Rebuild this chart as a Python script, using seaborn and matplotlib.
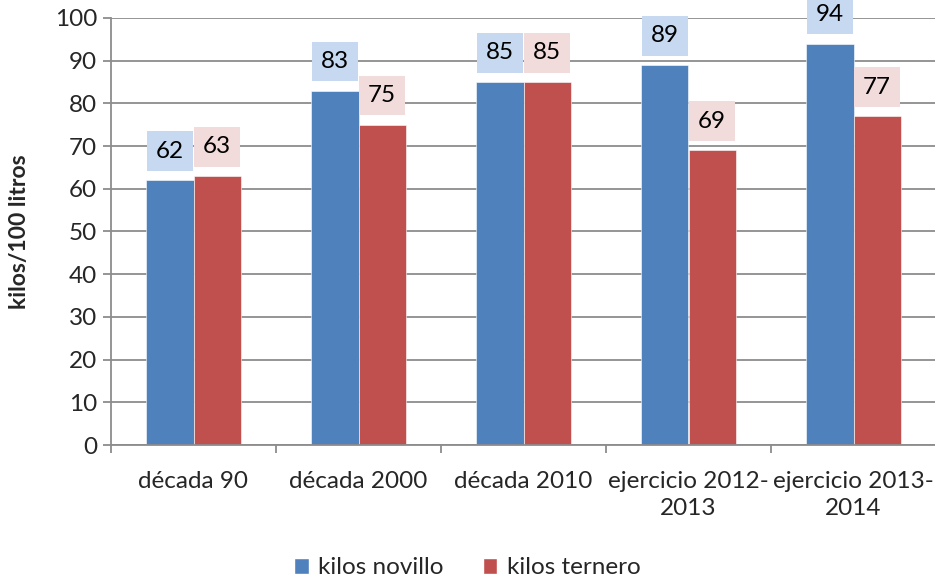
import seaborn as sns
import matplotlib.pyplot as plt
import pandas as pd
from matplotlib.patches import Patch

categorias = ["década 90", "década 2000", "década 2010", "ejercicio 2012-\n2013", "ejercicio 2013-\n2014"]
kilos_novillo = [62, 83, 85, 89, 94]
kilos_ternero = [63, 75, 85, 69, 77]
series = ["kilos novillo", "kilos ternero"]

colores = ["#4F81BD", "#C0504D"]
fondos = ["#C6D9F1", "#F2DCDB"]

df = pd.DataFrame({
    "categoria": categorias * 2,
    "valor": kilos_novillo + kilos_ternero,
    "serie": [series[0]] * len(categorias) + [series[1]] * len(categorias),
})

sns.set_theme(style="white")
plt.rcParams['font.family'] = ['Lato', 'DejaVu Sans']

fig = plt.figure(figsize=(9.35, 5.8), dpi=100)
ax = fig.add_axes([111 / 935, 135 / 580, 825 / 935, 427 / 580])

sns.barplot(data=df, x="categoria", y="valor", hue="serie", palette=colores,
            width=0.57, saturation=1, ax=ax, legend=False,
            edgecolor="white", linewidth=0.4)

# etiquetas con caja de fondo
for cont, fondo in zip(ax.containers, fondos):
    for bar in cont:
        h = bar.get_height()
        ax.annotate(f"{h:.0f}", (bar.get_x() + bar.get_width() / 2, h),
                    xytext=(0, 21), textcoords="offset points",
                    ha="center", va="center", fontsize=17.5, color="black",
                    bbox=dict(boxstyle="square,pad=0.38", fc=fondo, ec="none"),
                    annotation_clip=False)

ax.set_ylim(0, 100)
ax.set_xlim(-0.5, 4.5)
ax.set_yticks(range(0, 101, 10))
ax.yaxis.grid(True, color="#8C8C8C", linewidth=1.3)
ax.set_axisbelow(True)

for s in ["top", "right"]:
    ax.spines[s].set_visible(False)
for s in ["left", "bottom"]:
    ax.spines[s].set_color("#8C8C8C")
    ax.spines[s].set_linewidth(1.3)

ax.tick_params(axis="y", length=6, width=1.3, color="#8C8C8C", labelsize=17.5, left=True, pad=4)
ax.tick_params(axis="x", which="major", length=0, labelsize=17.5, pad=19)
ax.set_xticks([i + 0.5 for i in range(-1, 5)], minor=True)
ax.tick_params(axis="x", which="minor", length=6, width=1.3, color="#8C8C8C", bottom=True)
for lbl in ax.get_xticklabels():
    lbl.set_linespacing(1.35)
    lbl.set_verticalalignment("top")

ax.set_xlabel("")
ax.set_ylabel("kilos/100 litros", fontsize=16.5, fontweight="bold", labelpad=18)

handles = [Patch(facecolor=c, label=s) for c, s in zip(colores, series)]
fig.legend(handles=handles, loc="center", bbox_to_anchor=(0.5, 12 / 580), ncol=2,
           frameon=False, fontsize=17.5, handlelength=0.6, handleheight=0.6,
           handletextpad=0.4, columnspacing=1.6)

plt.savefig("out.png", dpi=100)
